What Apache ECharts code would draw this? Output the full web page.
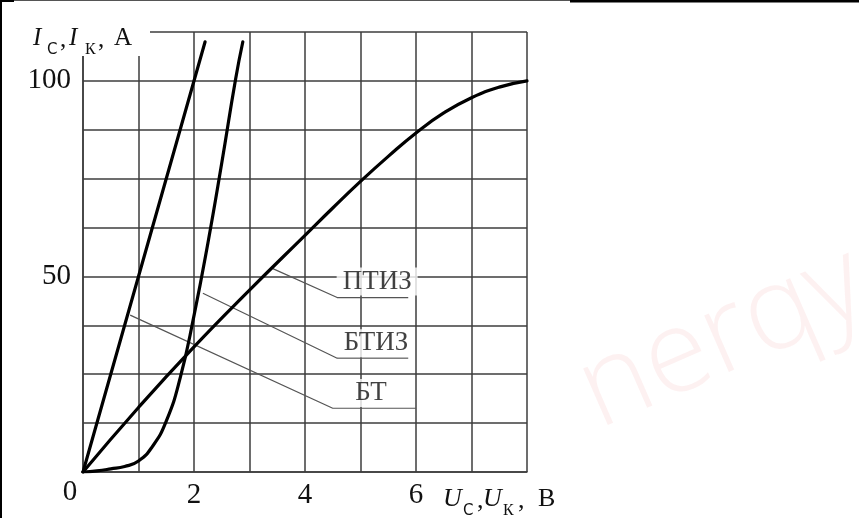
<!DOCTYPE html>
<html>
<head>
<meta charset="utf-8">
<script src="https://cdn.jsdelivr.net/npm/echarts@6/dist/echarts.min.js"></script>
<style>html,body{margin:0;padding:0;background:#fff}#c{width:859px;height:518px}</style>
</head>
<body>
<div id="c"></div>
<script>
// ---- data (U in volts, I in amperes) ----
const btU = [0, 2.2];
const btI = [0, 110];
const btizU = [0, 0.25, 0.5, 0.75, 1.0, 1.25, 1.5, 1.75, 2.0, 2.25, 2.5, 2.75, 2.88];
const btizI = [0, 0.3, 0.8, 1.4, 2.8, 6.5, 13, 24, 40, 58.5, 79, 100.5, 110];
const ptizU = [0, 1, 2, 3, 4, 4.5, 5, 5.5, 6, 6.5, 7, 7.5, 8];
const ptizI = [0, 16.5, 32, 46.5, 60.5, 67.5, 74.3, 80.7, 86.7, 91.8, 95.7, 98.4, 100];

const xTickLabels = [2, 4, 6];
const yTickLabels = [50, 100];

const labelNames = ['ПТИЗ', 'БТИЗ', 'БТ'];
const labelU = [5.30, 5.28, 5.19];
const labelI = [48.7, 32.9, 20.2];
const leadU = [[3.42, 4.58, 5.86], [2.16, 4.58, 5.86], [0.85, 4.50, 6.0]];
const leadI = [[52.0, 44.6, 44.6], [45.7, 29.1, 29.1], [40.1, 16.3, 16.3]];

const zip = (a, b) => a.map((v, i) => [v, b[i]]);
const SERIF = '"Liberation Serif","Times New Roman",serif';
const gridColor = '#3c3c3c';

const chart = echarts.init(document.getElementById('c'), null, {renderer: 'canvas'});

const curveStyle = {color: '#000', width: 3.2, cap: 'round', join: 'round'};
const series = [
  {type: 'line', name: 'БТ', data: zip(btU, btI), symbol: 'none', lineStyle: curveStyle, z: 4},
  {type: 'line', name: 'БТИЗ', data: zip(btizU, btizI), symbol: 'none', smooth: true, lineStyle: curveStyle, z: 4},
  {type: 'line', name: 'ПТИЗ', data: zip(ptizU, ptizI), symbol: 'none', smooth: true, lineStyle: curveStyle, z: 4}
];
leadU.forEach((us, k) => {
  series.push({type: 'line', data: zip(us, leadI[k]), symbol: 'none', lineStyle: {color: '#555', width: 1.2}, z: 3, silent: true});
});
series.push({
  type: 'scatter', symbolSize: 0, z: 5, silent: true,
  data: labelNames.map((n, i) => ({value: [labelU[i], labelI[i]], name: n})),
  label: {show: true, position: 'inside', formatter: p => p.name, fontFamily: SERIF, fontSize: 27, color: '#111',
    backgroundColor: '#fff', padding: [1, 6, 0, 6]}
});

const t = (text, x, y, font, extra) => Object.assign({type: 'text', z: 20, style: Object.assign({text, x, y, font, fill: '#111', textVerticalAlign: 'middle'}, extra || {})});

chart.setOption({
  animation: false,
  backgroundColor: '#fff',
  grid: {left: 83, right: 332, top: 32, bottom: 46},
  xAxis: {
    type: 'value', min: 0, max: 8, interval: 1,
    axisLine: {show: true, lineStyle: {color: gridColor, width: 1.5}},
    axisTick: {show: false},
    axisLabel: {formatter: v => xTickLabels.includes(v) ? String(v) : '', fontFamily: SERIF, fontSize: 29, color: '#111', margin: 9},
    splitLine: {show: true, lineStyle: {color: gridColor, width: 1.5}}
  },
  yAxis: {
    type: 'value', min: 0, max: 112.5, interval: 12.5,
    axisLine: {show: true, lineStyle: {color: gridColor, width: 1.5}},
    axisTick: {show: false},
    axisLabel: {formatter: v => yTickLabels.includes(v) ? String(v) : '', fontFamily: SERIF, fontSize: 29, color: '#111', margin: 12},
    splitLine: {show: true, lineStyle: {color: gridColor, width: 1.5}}
  },
  graphic: [
    // watermark
    {type: 'text', x: 598, y: 428, rotation: 0.412, z: 0, silent: true,
      style: {text: 'nerqy', x: 0, y: 26, font: '300 116px "Open Sans","DejaVu Sans",sans-serif', fill: 'rgba(236,120,120,0.10)', textVerticalAlign: 'bottom'}},
    // mask top-left grid corner behind axis title
    {type: 'rect', z: 6, shape: {x: 60, y: 18, width: 90, height: 38}, style: {fill: '#fff'}},
    // frame lines of the picture
    {type: 'rect', z: 30, shape: {x: 0, y: 0, width: 2, height: 518}, style: {fill: '#000'}},
    {type: 'rect', z: 30, shape: {x: 0, y: 0, width: 14, height: 2}, style: {fill: '#000'}},
    {type: 'rect', z: 30, shape: {x: 14, y: 0, width: 556, height: 1}, style: {fill: '#555'}},
    {type: 'rect', z: 30, shape: {x: 570, y: 0, width: 289, height: 2.5}, style: {fill: '#000'}},
    // origin label
    t('0', 70, 492, '29px ' + SERIF, {textAlign: 'center'}),
    // y axis title  I_C, I_K, A
    t('I', 33, 38, 'italic 25px ' + SERIF),
    t('С', 47, 50, '15px "DejaVu Sans",sans-serif'),
    t(',', 60, 40, '25px ' + SERIF),
    t('I', 69, 38, 'italic 25px ' + SERIF),
    t('К', 85, 50, '16px ' + SERIF),
    t(',', 98, 40, '25px ' + SERIF),
    t('А', 114, 38, '25px ' + SERIF),
    // x axis title  U_C, U_K, В
    t('U', 443, 499, 'italic 26px ' + SERIF),
    t('С', 463, 511, '15px "DejaVu Sans",sans-serif'),
    t(',', 477, 501, '26px ' + SERIF),
    t('U', 483, 499, 'italic 26px ' + SERIF),
    t('К', 503, 511, '16px ' + SERIF),
    t(',', 518, 501, '26px ' + SERIF),
    t('В', 538, 499, '26px ' + SERIF)
  ],
  series
});
</script>
</body>
</html>
